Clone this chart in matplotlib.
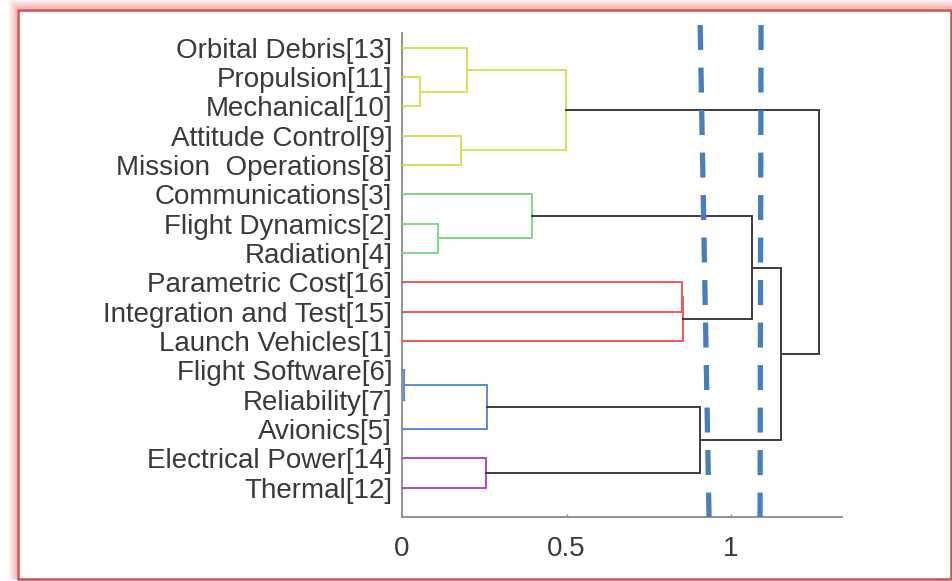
import numpy as np
import matplotlib.pyplot as plt
from matplotlib.lines import Line2D
from matplotlib.patches import Rectangle

plt.rcParams['font.family'] = ['Liberation Sans', 'DejaVu Sans']
plt.rcParams['lines.scale_dashes'] = False

# leaves from bottom (y=1) to top (y=16)
leaves = ["Thermal[12]", "Electrical Power[14]", "Avionics[5]", "Reliability[7]",
          "Flight Software[6]", "Launch Vehicles[1]", "Integration and Test[15]",
          "Parametric Cost[16]", "Radiation[4]", "Flight Dynamics[2]",
          "Communications[3]", "Mission  Operations[8]", "Attitude Control[9]",
          "Mechanical[10]", "Propulsion[11]", "Orbital Debris[13]"]

# merges: (node a, node b, height, group); new clusters get ids 16, 17, ...
merges = [
    (4, 3, 0.006, "blue"),
    (16, 2, 0.257, "blue"),
    (1, 0, 0.255, "purple"),
    (17, 18, 0.906, "none"),
    (7, 6, 0.852, "red"),
    (20, 5, 0.855, "red"),
    (9, 8, 0.108, "green"),
    (10, 22, 0.394, "green"),
    (23, 21, 1.064, "none"),
    (24, 19, 1.152, "none"),
    (14, 13, 0.055, "yellow"),
    (15, 26, 0.199, "yellow"),
    (12, 11, 0.178, "yellow"),
    (27, 28, 0.497, "yellow"),
    (29, 25, 1.267, "none"),
]

group_colors = {"yellow": "#d2e35a", "green": "#7fd98a", "red": "#ec5a5a",
                "blue": "#5b8bd6", "purple": "#b348c4", "none": "#3c3c3c"}

# cut levels (dashed): x at top, x at bottom
cuts = [(0.906, 0.933), (1.091, 1.088)]

W, H = 953, 581
fig = plt.figure(figsize=(W / 100, H / 100), dpi=100)

# frame with soft shadow on the top and left
bg = fig.add_axes([0, 0, 1, 1])
bg.set_xlim(0, W)
bg.set_ylim(H, 0)
bg.axis("off")
for i in range(1, 10):
    a = 0.55 * (1 - i / 10)
    bg.plot([18 - i, 18 - i], [579, 9 - i], color="#ee7f7f", alpha=a, lw=1.0,
            solid_capstyle="butt")
    bg.plot([18 - i, 952], [9 - i, 9 - i], color="#ee7f7f", alpha=a, lw=1.0,
            solid_capstyle="butt")
bg.add_patch(Rectangle((18.5, 9.5), 933, 569, fill=False, ec="#c9504f", lw=1.8))

ax = fig.add_axes([402 / W, 1 - 517 / H, 440 / W, 484 / H])
ax.set_xlim(0, 1.337)
ax.set_ylim(0, 16.5)

# node positions: (height, y)
pos = [(0.0, i + 1) for i in range(len(leaves))]
for a, b, h, g in merges:
    ha, ya = pos[a]
    hb, yb = pos[b]
    ax.plot([ha, h, h, hb], [ya, ya, yb, yb], color=group_colors[g], lw=1.4,
            solid_joinstyle="miter", zorder=3)
    pos.append((h, (ya + yb) / 2))

for x_top, x_bot in cuts:
    ax.add_line(Line2D([x_top, x_bot], [16.77, 0], color="#4a7ebb", lw=3.8,
                       linestyle=(0, (18, 12.6)), dash_capstyle="butt",
                       clip_on=False, zorder=5))

for s in ["top", "right"]:
    ax.spines[s].set_visible(False)
for s in ["left", "bottom"]:
    ax.spines[s].set_color("#8a8a8a")
    ax.spines[s].set_linewidth(1.3)

ax.set_yticks(np.arange(1, len(leaves) + 1))
ax.set_yticklabels(leaves)
ax.set_xticks([0, 0.5, 1])
ax.set_xticklabels(["0", "0.5", "1"])
ax.tick_params(axis="both", direction="in", length=2.5, width=1, color="#8a8a8a",
               labelsize=20, labelcolor="#3a3a3a")
ax.tick_params(axis="y", pad=7)
ax.tick_params(axis="x", pad=14)

fig.savefig("out.png", dpi=100)
